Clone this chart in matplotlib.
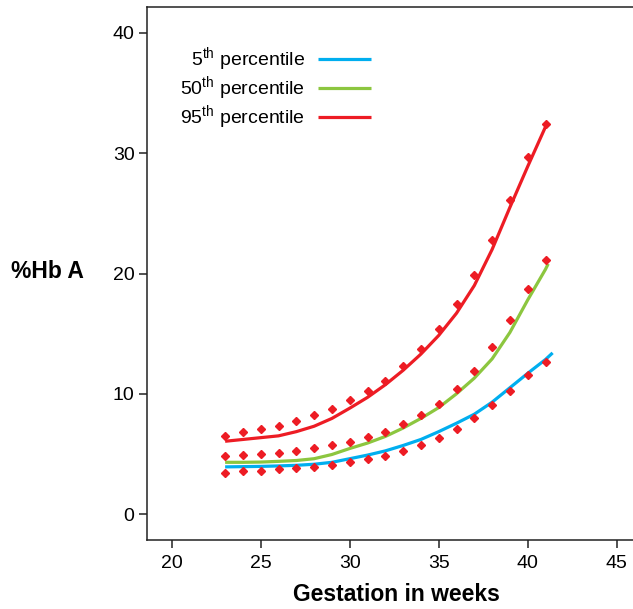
import matplotlib
matplotlib.use("Agg")
import matplotlib.pyplot as plt

plt.rcParams["font.family"] = ["Liberation Sans", "DejaVu Sans"]
plt.rcParams["mathtext.fontset"] = "custom"
plt.rcParams["mathtext.rm"] = "Liberation Sans"

# observed values (diamonds)
weeks = list(range(23, 42))
obs_95 = [6.5, 6.8, 7.05, 7.35, 7.75, 8.2, 8.75, 9.45, 10.2, 11.1, 12.3, 13.7,
          15.35, 17.45, 19.9, 22.8, 26.15, 29.7, 32.45]
obs_50 = [4.85, 4.9, 4.95, 5.1, 5.25, 5.45, 5.7, 6.0, 6.4, 6.85, 7.45, 8.2,
          9.15, 10.4, 11.9, 13.9, 16.15, 18.75, 21.15]
obs_5 = [3.45, 3.55, 3.6, 3.75, 3.85, 3.95, 4.1, 4.3, 4.55, 4.85, 5.25, 5.75,
         6.3, 7.1, 8.0, 9.05, 10.25, 11.6, 12.6]

# fitted percentile curves
fit_weeks_5 = weeks + [41.4]
fit_5 = [3.92, 3.94, 3.96, 4.0, 4.05, 4.14, 4.3, 4.6, 4.9, 5.25, 5.7, 6.2,
         6.85, 7.55, 8.3, 9.3, 10.5, 11.7, 12.85, 13.4]
fit_weeks_50 = weeks + [41.15]
fit_50 = [4.3, 4.3, 4.32, 4.38, 4.45, 4.6, 4.95, 5.45, 5.9, 6.45, 7.15, 7.95,
          8.85, 10.0, 11.3, 12.9, 15.1, 17.8, 20.35, 20.8]
fit_weeks_95 = weeks + [41.1]
fit_95 = [6.05, 6.2, 6.35, 6.5, 6.85, 7.3, 7.95, 8.8, 9.7, 10.75, 11.95, 13.3,
          14.85, 16.7, 19.0, 22.0, 25.5, 28.9, 32.2, 32.5]

labels = [r"5$^{\mathrm{th}}$ percentile", r"50$^{\mathrm{th}}$ percentile",
          r"95$^{\mathrm{th}}$ percentile"]
colors = ["#00AEEF", "#8CC63F", "#ED1C24"]

W, H = 633, 609
fig = plt.figure(figsize=(W / 100, H / 100), dpi=100)
ax = fig.add_axes([147 / W, 1 - 540 / H, (645 - 147) / W, (540 - 7) / H])

ax.plot(fit_weeks_5, fit_5, color=colors[0], lw=2.3, label=labels[0],
        solid_capstyle="butt")
ax.plot(fit_weeks_50, fit_50, color=colors[1], lw=2.3, label=labels[1],
        solid_capstyle="butt")
ax.plot(fit_weeks_95, fit_95, color=colors[2], lw=2.3, label=labels[2],
        solid_capstyle="butt")

for obs in (obs_5, obs_50, obs_95):
    ax.plot(weeks, obs, ls="none", marker="D", ms=3.8, color="#ED1C24",
            mec="#ED1C24", zorder=3)

ax.set_xlim(18.61, 46.59)
ax.set_ylim(-2.16, 42.16)
ax.set_xticks([20, 25, 30, 35, 40, 45])
ax.set_yticks([0, 10, 20, 30, 40])
ax.tick_params(axis="both", direction="out", length=6, width=1.1,
               labelsize=14, color="#222222")
ax.tick_params(axis="x", pad=5)
ax.tick_params(axis="y", pad=3)
for sp in ax.spines.values():
    sp.set_linewidth(1.1)
    sp.set_color("#222222")

ax.set_xlabel("Gestation in weeks", fontsize=16.5, fontweight="bold", labelpad=8)
ax.set_ylabel("%Hb A", fontsize=16.5, fontweight="bold", rotation=0,
              ha="center", va="center")
ax.yaxis.set_label_coords(-0.199, 0.503)

ax.legend(loc="upper right", bbox_to_anchor=(371 / W, 1 - 45 / H),
          bbox_transform=fig.transFigure, frameon=False, fontsize=14,
          markerfirst=False, handlelength=2.73, handletextpad=0.67,
          labelspacing=0.02, borderpad=0, borderaxespad=0)

fig.savefig("out.png", dpi=100)
